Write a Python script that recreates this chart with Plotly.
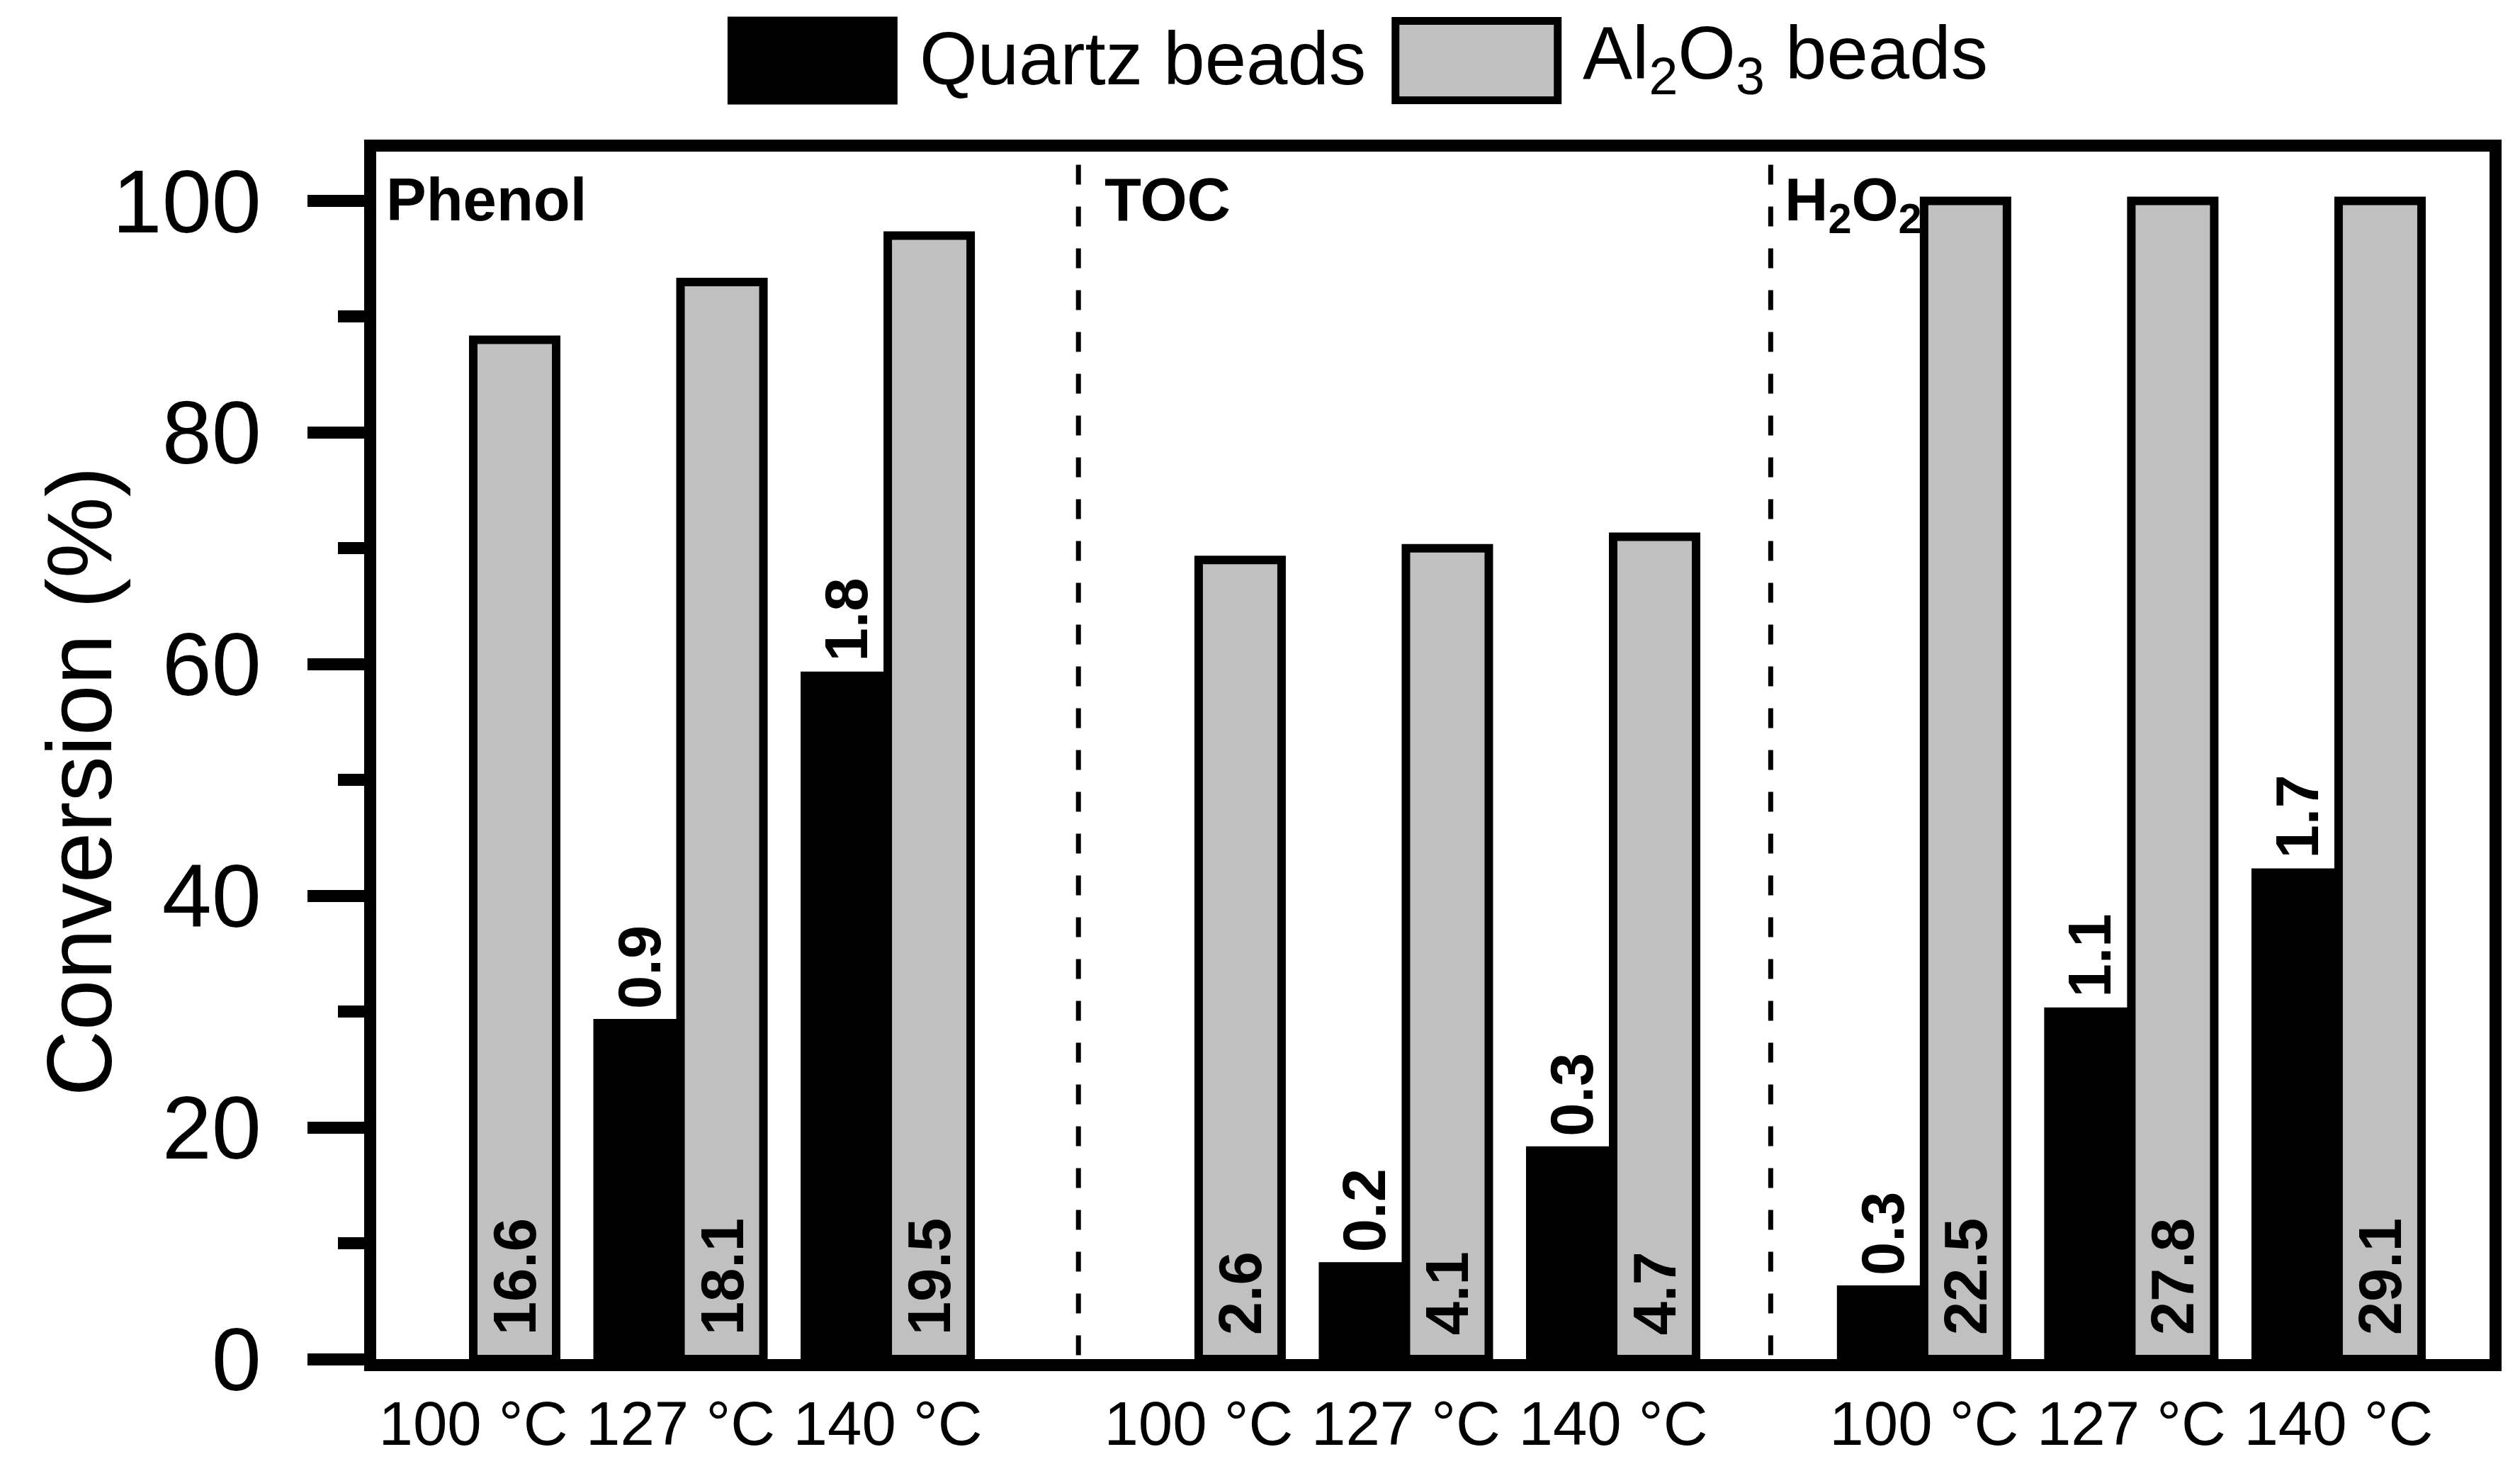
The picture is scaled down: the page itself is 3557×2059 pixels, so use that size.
import plotly.graph_objects as go

# ---------------- data ----------------
groups = ["Phenol", "TOC", "H<sub>2</sub>O<sub>2</sub>"]
temps = ["100 °C", "127 °C", "140 °C"]
quartz = [0, 29, 59, 0, 8, 18, 6, 30, 42]
al2o3 = [88, 93, 97, 69, 70, 71, 100, 100, 100]
quartz_labels = ["", "0.9", "1.8", "", "0.2", "0.3", "0.3", "1.1", "1.7"]
al2o3_labels = ["16.6", "18.1", "19.5", "2.6", "4.1", "4.7", "22.5", "27.8", "29.1"]
series_names = ["Quartz beads", "Al<sub>2</sub>O<sub>3</sub> beads"]
y_ticks = [0, 20, 40, 60, 80, 100]
y_title = "Conversion (%)"

# ---------------- layout helpers ----------------
W, H = 3557, 2059
LW = 17                      # frame line width
BAR_LW = 12                  # bar outline width
L, R, T, B = 531, 42.5, 213.5, 141
GROUP_STEP = 3.5
BAR_W = 0.4
SEPARATORS = [2.92, 6.26]
FONT = "Liberation Sans, Arial, sans-serif"

pos = [g * GROUP_STEP + i for g in range(len(groups)) for i in range(len(temps))]
ticktext = [t for _ in groups for t in temps]
q_text = [("\u2009" + s) if s else "" for s in quartz_labels]
a_text = [("\u00a0\u200a" + s) if s else "" for s in al2o3_labels]
q_line_w = [BAR_LW if v > 0 else 0 for v in quartz]

PW = W - L - R
PH = H - T - B

def px_x(px):
    return (px - L) / PW

def px_y(py):
    return (H - B - py) / PH

fig = go.Figure()
fig.add_trace(go.Bar(
    x=pos, y=quartz, width=BAR_W, offset=-BAR_W, name="Quartz beads",
    marker=dict(color="black", line=dict(color="black", width=q_line_w)),
    text=q_text, textposition="outside", textangle=-90,
    textfont=dict(family=FONT, size=85, color="black", weight="bold"),
    constraintext="none", cliponaxis=False, showlegend=False,
))
fig.add_trace(go.Bar(
    x=pos, y=al2o3, width=BAR_W, offset=0, name="Al2O3 beads",
    marker=dict(color="#C0C0C0", line=dict(color="black", width=BAR_LW)),
    text=a_text, textposition="inside",
    insidetextanchor="start", textangle=-90,
    textfont=dict(family=FONT, size=85, color="black", weight="bold"),
    constraintext="none", cliponaxis=False, showlegend=False,
))

shapes = []
for sx in SEPARATORS:
    shapes.append(dict(type="line", xref="x", yref="paper", x0=sx, x1=sx,
                       y0=px_y(232), y1=0,
                       line=dict(color="black", width=7, dash="28px,31px")))
# legend swatches
shapes.append(dict(type="rect", xref="paper", yref="paper",
                   x0=px_x(1027), x1=px_x(1267), y0=px_y(147), y1=px_y(23),
                   fillcolor="black", line=dict(color="black", width=0)))
shapes.append(dict(type="rect", xref="paper", yref="paper",
                   x0=px_x(1970), x1=px_x(2199), y0=px_y(141), y1=px_y(29),
                   fillcolor="#C0C0C0", line=dict(color="black", width=11)))

annotations = []
legend_x = [1296, 2232]
for name, lx in zip(series_names, legend_x):
    annotations.append(dict(text=name, xref="paper", yref="paper",
                            x=px_x(lx), y=px_y(82), xanchor="left", yanchor="middle",
                            showarrow=False,
                            font=dict(family=FONT, size=105, color="black")))
group_label_x = [543, 1557, 2517]
for gname, gx in zip(groups, group_label_x):
    annotations.append(dict(text=gname, xref="paper", yref="paper",
                            x=px_x(gx), y=px_y(232), xanchor="left", yanchor="top",
                            showarrow=False,
                            font=dict(family=FONT, size=85, color="black", weight="bold")))
# y-axis title
annotations.append(dict(text=y_title, xref="paper", yref="paper",
                        x=px_x(112), y=px_y(1103), xanchor="center", yanchor="middle",
                        textangle=-90, showarrow=False,
                        font=dict(family=FONT, size=129, color="black")))

px_per_unit = 16.35
y_max = PH / px_per_unit
x_per_px = 1 / 292.6
x0_val = (L - 668) * x_per_px
x1_val = x0_val + PW * x_per_px

fig.update_layout(
    width=W, height=H, autosize=False,
    margin=dict(l=L, r=R, t=T, b=B, pad=0, autoexpand=False),
    paper_bgcolor="white", plot_bgcolor="white",
    barmode="overlay", showlegend=False,
    shapes=shapes, annotations=annotations,
    font=dict(family=FONT, color="black"),
)
fig.update_xaxes(
    range=[x0_val, x1_val], tickvals=pos, ticktext=ticktext,
    tickfont=dict(family=FONT, size=87, color="black"),
    showline=True, linewidth=LW, linecolor="black", mirror=True,
    ticks="", showgrid=False, zeroline=False, ticklabelstandoff=0,
    automargin=False,
)
fig.update_yaxes(
    range=[0, y_max], tickvals=y_ticks,
    tickfont=dict(family=FONT, size=126, color="black"),
    showline=True, linewidth=LW, linecolor="black", mirror=True,
    ticks="outside", ticklen=80, tickwidth=LW, tickcolor="black",
    minor=dict(dtick=10, ticks="outside", ticklen=37, tickwidth=LW, tickcolor="black"),
    showgrid=False, zeroline=False, ticklabelstandoff=40,
    automargin=False,
)

fig.write_html("out.html")
